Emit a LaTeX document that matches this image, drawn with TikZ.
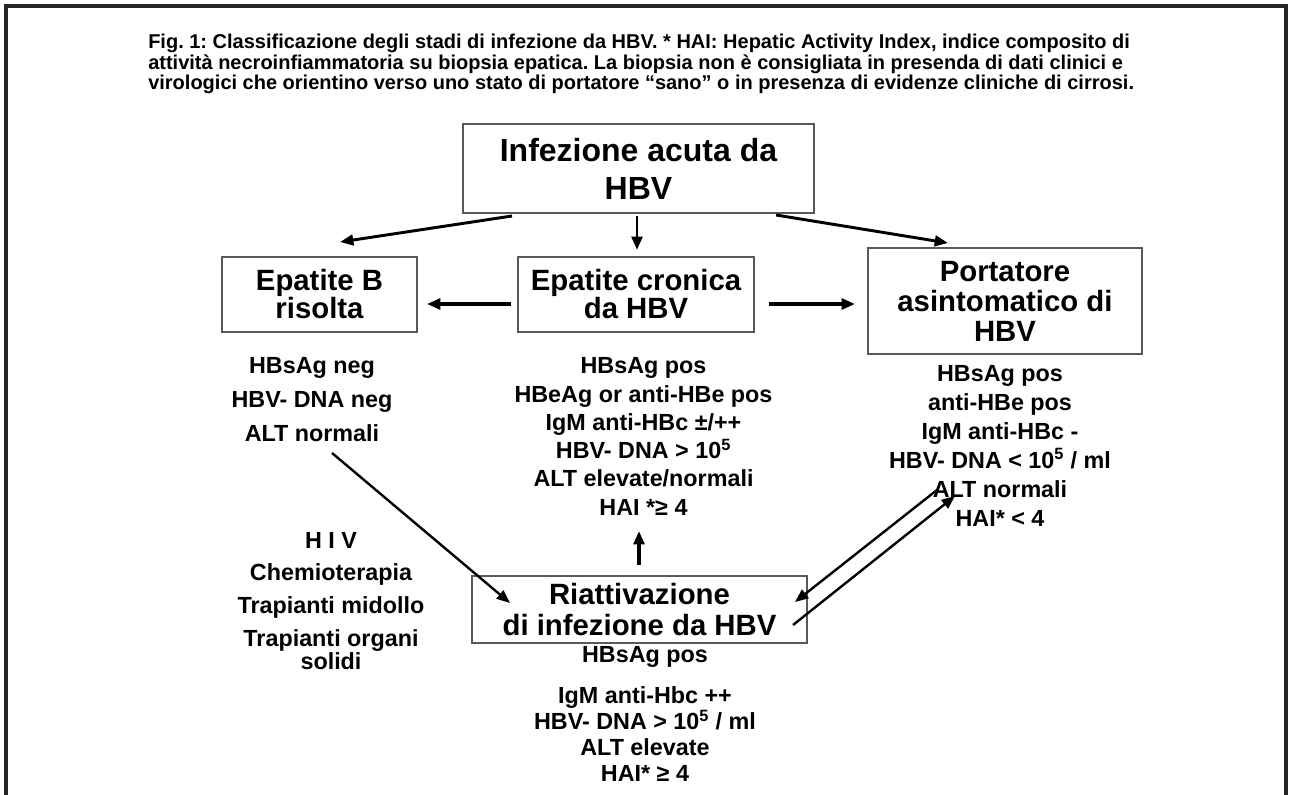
\documentclass[tikz,border=0pt]{standalone}
\usepackage{fontspec}
\setmainfont{Liberation Sans}
\usetikzlibrary{arrows.meta}
\frenchspacing

\begin{document}
\begin{tikzpicture}[x=0.75pt, y=-0.75pt,
            riquadro/.style={draw=black!65, line width=1.1pt, align=center, inner sep=0pt,
                font=\bfseries\fontsize{22}{22.5}\selectfont},
            dati/.style={align=center, inner sep=0pt, font=\bfseries\fontsize{17.5}{21.2}\selectfont},
            freccia/.style={-{Triangle[length=10pt,width=8pt]}, line width=2.2pt}]
            \useasboundingbox (0,0) rectangle (1289,795);
            \draw[line width=2.3pt, black!85] (6,795) -- (6,6) -- (1286,6) -- (1286,795);

            \node(didascalia)[anchor=west, align=left, inner sep=0pt,
                font=\bfseries\fontsize{15}{15.4}\selectfont] at (148,64)
                {Fig. 1: Classificazione degli stadi di infezione da HBV. * HAI: Hepatic Activity Index, indice composito di\\
                attività necroinfiammatoria su biopsia epatica. La biopsia non è consigliata in presenda di dati clinici e\\
                virologici che orientino verso uno stato di portatore “sano” o in presenza di evidenze cliniche di cirrosi.};

            % riquadri
            \node(acuta)[riquadro, minimum width=263pt, minimum height=67pt,
                font=\bfseries\fontsize{24}{28.5}\selectfont] at (638.5,168.5) {Infezione acuta da\\HBV};
            \node(risolta)[riquadro, minimum width=146pt, minimum height=56pt,
                font=\bfseries\fontsize{22}{21}\selectfont] at (319.5,294.5) {Epatite B\\risolta};
            \node(cronica)[riquadro, minimum width=177pt, minimum height=56pt,
                font=\bfseries\fontsize{22}{21}\selectfont] at (636,294.5) {Epatite cronica\\da HBV};
            \node(portatore)[riquadro, minimum width=205.5pt, minimum height=79.5pt] at (1005,301)
                {Portatore\\asintomatico di\\HBV};
            \node(riatt)[riquadro, minimum width=251pt, minimum height=50pt,
                font=\bfseries\fontsize{22}{23}\selectfont] at (639.5,609.5) {Riattivazione\\di infezione da HBV};

            % dati
            \node(dati-risolta)[dati, font=\bfseries\fontsize{17.5}{25.5}\selectfont] at (312,400)
                {HBsAg neg\\HBV- DNA neg\\ALT normali};
            \node(dati-cronica)[dati] at (643.5,436.5)
                {HBsAg pos\\HBeAg or anti-HBe pos\\IgM anti-HBc ±/++\\HBV- DNA > 10\textsuperscript{5}\\ALT elevate/normali\\HAI *≥ 4};
            \node(dati-portatore)[dati, font=\bfseries\fontsize{17.5}{21.75}\selectfont] at (1000,445.5)
                {HBsAg pos\\anti-HBe pos\\IgM anti-HBc -\\HBV- DNA < 10\textsuperscript{5} / ml\\ALT normali\\HAI* < 4};
            \node(dati-riatt)[dati, font=\bfseries\fontsize{17.5}{19.5}\selectfont] at (645,714)
                {HBsAg pos\\[11pt]IgM anti-Hbc ++\\HBV- DNA > 10\textsuperscript{5} / ml\\ALT elevate\\HAI* ≥ 4};
            \node(cause)[dati, font=\bfseries\fontsize{17.5}{24.5}\selectfont] at (331,601)
                {H I V\\Chemioterapia\\Trapianti midollo\\Trapianti organi\\[-7pt]solidi};

            % estremi delle frecce
            \coordinate (a1) at (512,216);   \coordinate (b1) at (340,242);
            \coordinate (a2) at (637,216);   \coordinate (b2) at (637,250);
            \coordinate (a3) at (776,215);   \coordinate (b3) at (948,243);
            \coordinate (a4) at (511,304);   \coordinate (b4) at (427,304);
            \coordinate (a5) at (769,304);   \coordinate (b5) at (855,304);
            \coordinate (a6) at (332,453);   \coordinate (b6) at (510,603);
            \coordinate (a7) at (639,565);   \coordinate (b7) at (639,531);
            \coordinate (a8) at (937,490);   \coordinate (b8) at (795,602);
            \coordinate (a9) at (793,625);   \coordinate (b9) at (955,496);

            \begin{scope}[freccia]
                \draw (a1) -- (b1);
                \draw (a2) -- (b2);
                \draw (a3) -- (b3);
                \draw[line width=3pt] (a4) -- (b4);
                \draw[line width=3pt] (a5) -- (b5);
                \draw[line width=3pt] (a7) -- (b7);
            \end{scope}
            \begin{scope}[freccia, line width=1.8pt]
                \draw (a6) -- (b6);
                \draw (a8) -- (b8);
                \draw (a9) -- (b9);
            \end{scope}
        \end{tikzpicture}
\end{document}
